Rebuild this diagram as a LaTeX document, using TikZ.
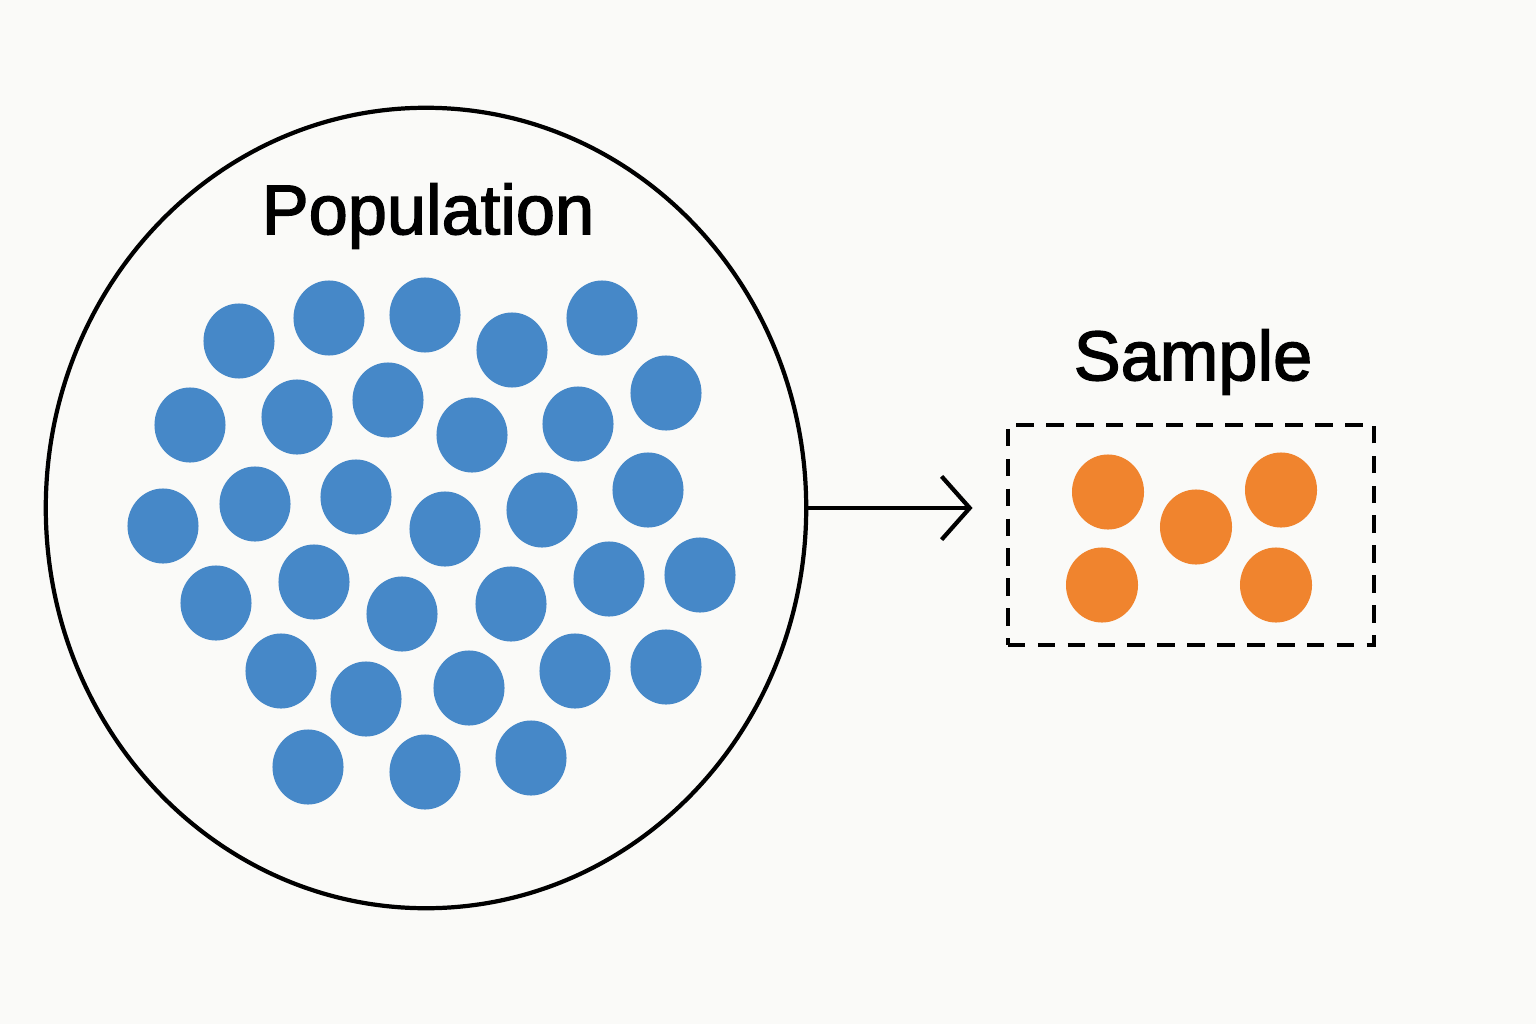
\documentclass[tikz,border=0pt]{standalone}
\usepackage{fontspec}
\setmainfont{Liberation Sans}
\newfontface\lblfont{Liberation Sans}[FakeBold=2]
\usetikzlibrary{shapes.geometric,arrows.meta}
\definecolor{bgc}{HTML}{FAFAF8}
\definecolor{dotblue}{HTML}{4688C8}
\definecolor{dotorange}{HTML}{F0842E}
\begin{document}
\begin{tikzpicture}[x=0.01cm,y=-0.01cm,
  bdot/.style={ellipse,fill=dotblue,draw=none,minimum width=0.71cm,minimum height=0.75cm,inner sep=0pt},
  odot/.style={ellipse,fill=dotorange,draw=none,minimum width=0.72cm,minimum height=0.75cm,inner sep=0pt},
  lbl/.style={font=\lblfont\fontsize{20}{24}\selectfont,text=black,inner sep=0pt}]
\useasboundingbox[fill=bgc] (0,0) rectangle (1536,1024);
\node[ellipse,draw=black,line width=1.2pt,minimum width=7.6cm,minimum height=8cm,inner sep=0pt] (pop) at (426,508) {};
\node[lbl] (poplbl) at (428,216) {Population};
\foreach \i/\x/\y in {1/239/341,2/329/318,3/425/315,4/512/350,5/602/318,6/190/425,7/297/417,8/388/400,9/472/435,10/578/424,11/666/393,12/163/526,13/255/504,14/356/497,15/445/529,16/542/510,17/648/490,18/216/603,19/314/582,20/402/614,21/511/604,22/609/579,23/700/575,24/281/671,25/366/699,26/469/688,27/575/671,28/666/667,29/308/767,30/425/772,31/531/758}
  \node[bdot] (b\i) at (\x,\y) {};
\node[rectangle,draw=black,line width=1.1pt,dash pattern=on 5pt off 3.5pt,minimum width=3.66cm,minimum height=2.2cm,inner sep=0pt] (samp) at (1191,535) {};
\node[lbl] (samplbl) at (1193,362) {Sample};
\foreach \i/\x/\y in {1/1108/492,2/1196/527,3/1281/490,4/1102/585,5/1276/585}
  \node[odot] (o\i) at (\x,\y) {};
\draw[line width=1.2pt,-{Straight Barb[length=8pt,width=18pt,line width=1.2pt]},shorten >=9.5pt] (pop.east) -- (pop.east -| samp.west);
\end{tikzpicture}
\end{document}
